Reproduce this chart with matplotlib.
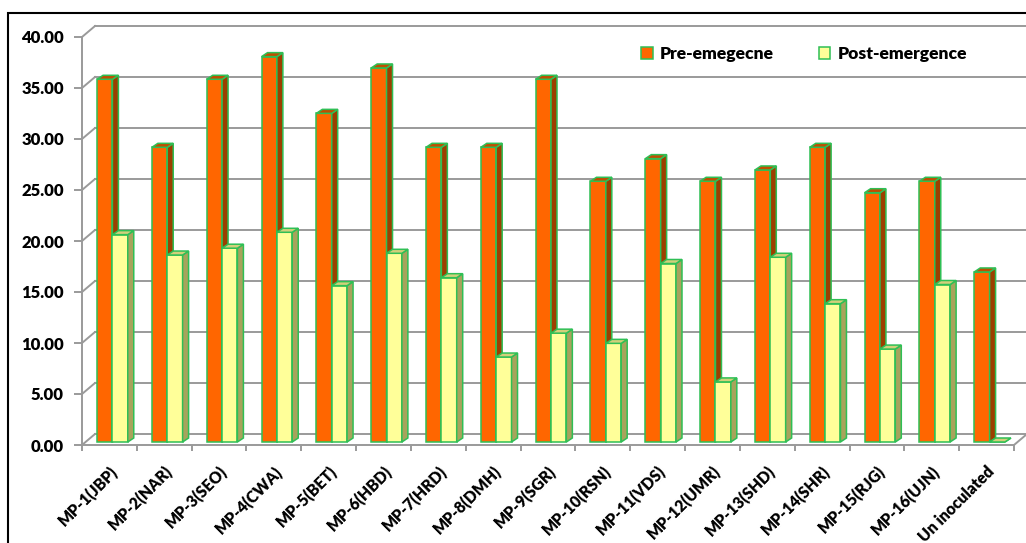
import numpy as np
import matplotlib.pyplot as plt
from matplotlib.patches import Patch, Polygon, Rectangle

categories = ['MP-1(JBP)', 'MP-2(NAR)', 'MP-3(SEO)', 'MP-4(CWA)', 'MP-5(BET)',
              'MP-6(HBD)', 'MP-7(HRD)', 'MP-8(DMH)', 'MP-9(SGR)', 'MP-10(RSN)',
              'MP-11(VDS)', 'MP-12(UMR)', 'MP-13(SHD)', 'MP-14(SHR)', 'MP-15(RJG)',
              'MP-16(UJN)', 'Un inoculated']
pre_emergence = [35.56, 28.89, 35.56, 37.78, 32.22, 36.67, 28.89, 28.89, 35.56,
                 25.56, 27.78, 25.56, 26.67, 28.89, 24.44, 25.56, 16.67]
post_emergence = [20.33, 18.33, 19.00, 20.56, 15.33, 18.50, 16.11, 8.33, 10.67,
                  9.67, 17.50, 5.89, 18.11, 13.56, 9.11, 15.44, 0.00]
yticks = [0, 5, 10, 15, 20, 25, 30, 35, 40]

plt.rcParams['font.family'] = ['Lato', 'DejaVu Sans']
FW = 'heavy'

W, H = 1026, 543
fig = plt.figure(figsize=(W / 100, H / 100), dpi=100)
ax_left, ax_right, ax_bottom, ax_top = 82, 1014, 445, 37
ax = fig.add_axes([ax_left / W, (H - ax_bottom) / H,
                   (ax_right - ax_left) / W, (ax_bottom - ax_top) / H])
n = len(categories)
ax.set_xlim(-0.5, n - 0.5)
ax.set_ylim(0, 40)

# pixel -> data conversion, used for the fake 3-D depth
XPX = n / (ax_right - ax_left)
YPX = 40 / (ax_bottom - ax_top)

grid_col = '#9a9a9a'
wall_dx, wall_dy = 13 * XPX, 11 * YPX

# back wall gridlines + side wall diagonals
for v in yticks:
    ax.plot([-0.5 + wall_dx, n - 0.5 + wall_dx], [v + wall_dy, v + wall_dy],
            color=grid_col, lw=1.4, clip_on=False, zorder=1)
    ax.plot([-0.5, -0.5 + wall_dx], [v, v + wall_dy],
            color=grid_col, lw=1.4, clip_on=False, zorder=1)
ax.plot([n - 0.5, n - 0.5 + wall_dx], [0, wall_dy],
        color=grid_col, lw=1.4, clip_on=False, zorder=1)

# bars: front face, side face and top face
bar_dx, bar_dy = 3 * XPX, 3 * YPX
depth_x, depth_y = 6 * XPX, 4 * YPX
w = 0.28
edge = '#2fbf55'
styles = [('#ff6600', '#9c3f00', '#c04e00'),
          ('#ffff99', '#a8a35c', '#d2d07a')]

def draw_bar(xl, h, front, side, top, z):
    xl = xl + bar_dx
    y0 = bar_dy
    ax.add_patch(Rectangle((xl, y0), w, h, fc=front, ec=edge, lw=1.1,
                           zorder=z, clip_on=False))
    ax.add_patch(Polygon([(xl + w, y0), (xl + w, y0 + h),
                          (xl + w + depth_x, y0 + h + depth_y),
                          (xl + w + depth_x, y0 + depth_y)],
                         fc=side, ec=edge, lw=1.1, zorder=z, clip_on=False))
    ax.add_patch(Polygon([(xl, y0 + h), (xl + w, y0 + h),
                          (xl + w + depth_x, y0 + h + depth_y),
                          (xl + depth_x, y0 + h + depth_y)],
                         fc=top, ec=edge, lw=1.1, zorder=z, clip_on=False))

for i in range(n):
    z = 3 + i * 2
    draw_bar(i - w, pre_emergence[i], *styles[0], z)
    draw_bar(i, post_emergence[i], *styles[1], z + 1)

# axes styling
for s in ['top', 'right']:
    ax.spines[s].set_visible(False)
for s in ['left', 'bottom']:
    ax.spines[s].set_color(grid_col)
    ax.spines[s].set_linewidth(1.4)

ax.set_yticks(yticks)
ax.set_yticklabels([f'{v:.2f}' for v in yticks], fontsize=12, fontweight=FW)
ax.tick_params(axis='y', length=6, width=1.4, color=grid_col, pad=7)

ax.set_xticks(np.arange(n))
ax.set_xticklabels(categories, rotation=45, ha='right', va='top',
                   rotation_mode='anchor', fontsize=11.3, fontweight=FW)
ax.set_xticks(np.arange(n + 1) - 0.5, minor=True)
ax.tick_params(axis='x', which='major', length=0, pad=13)
ax.tick_params(axis='x', which='minor', length=4, width=1.4, color=grid_col)

handles = [Patch(fc=styles[0][0], ec=edge, lw=1.1, label='Pre-emegecne'),
           Patch(fc=styles[1][0], ec=edge, lw=1.1, label='Post-emergence')]
fig.legend(handles=handles, ncol=2, frameon=False, loc='center',
           bbox_to_anchor=(804 / W, 1 - 54 / H),
           handlelength=0.65, handleheight=0.65, handletextpad=0.4,
           columnspacing=2.6, prop={'weight': FW, 'size': 12.6})

# outer chart frame
fig.patches.append(Rectangle((8 / W, -0.05), 1.2, 1 - 13 / H + 0.05,
                             transform=fig.transFigure, fill=False,
                             ec='black', lw=1.5))

fig.savefig('out.png', dpi=100)
